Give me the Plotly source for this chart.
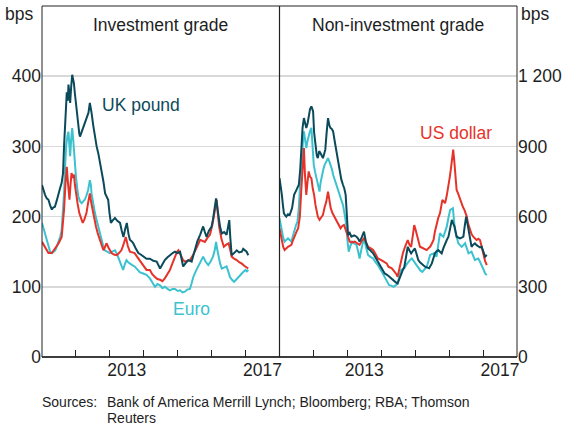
import plotly.graph_objects as go

# ---------------- data (decimal years, bps) ----------------
# Investment grade – UK pound
ig_gbp_x = [2011.00, 2011.05, 2011.09, 2011.14, 2011.19, 2011.24, 2011.29, 2011.33, 2011.38, 2011.43,
            2011.48, 2011.53, 2011.58, 2011.62, 2011.65, 2011.69, 2011.73, 2011.76, 2011.78, 2011.81,
            2011.83, 2011.86, 2011.89, 2011.92, 2011.94, 2011.97, 2012.00, 2012.04, 2012.07, 2012.10,
            2012.12, 2012.16, 2012.20, 2012.24, 2012.27, 2012.31, 2012.34, 2012.37, 2012.41, 2012.44,
            2012.46, 2012.51, 2012.56, 2012.61, 2012.66, 2012.71, 2012.76, 2012.81, 2012.86, 2012.90,
            2012.95, 2012.99, 2013.03, 2013.09, 2013.15, 2013.22, 2013.30, 2013.35, 2013.40, 2013.45,
            2013.50, 2013.55, 2013.59, 2013.64, 2013.69, 2013.76, 2013.84, 2013.91, 2013.99, 2014.08,
            2014.18, 2014.28, 2014.38, 2014.48, 2014.55, 2014.62, 2014.70, 2014.77, 2014.85, 2014.92,
            2015.00, 2015.07, 2015.12, 2015.16, 2015.24, 2015.31, 2015.41, 2015.46, 2015.51, 2015.58,
            2015.66, 2015.70, 2015.75, 2015.80, 2015.85, 2015.92, 2016.00, 2016.04, 2016.07, 2016.10,
            2016.13, 2016.17, 2016.20, 2016.25, 2016.30, 2016.37, 2016.44, 2016.48, 2016.52, 2016.55,
            2016.59, 2016.66, 2016.74, 2016.81, 2016.89, 2016.93, 2016.98, 2017.03, 2017.08]
ig_gbp_y = [245, 236, 231, 226, 224, 216, 210, 213, 214, 222,
            233, 240, 248, 262, 300, 340, 377, 365, 388, 375,
            362, 385, 402, 395, 390, 375, 362, 340, 324, 318,
            314, 320, 324, 330, 333, 340, 345, 348, 362, 355,
            348, 330, 314, 300, 290, 278, 267, 250, 233, 228,
            224, 205, 191, 195, 198, 194, 191, 180, 171, 182,
            191, 175, 167, 165, 162, 155, 148, 146, 143, 140,
            140, 137, 136, 126, 132, 138, 142, 145, 148, 150,
            148, 150, 140, 129, 134, 138, 136, 145, 152, 165,
            174, 180, 186, 178, 171, 180, 186, 196, 207, 218,
            226, 212, 200, 185, 176, 178, 174, 185, 195, 170,
            145, 148, 152, 149, 150, 154, 152, 150, 145]

# Investment grade – US dollar
ig_usd_x = [2011.00, 2011.05, 2011.10, 2011.19, 2011.29, 2011.39, 2011.49, 2011.58, 2011.62, 2011.65,
            2011.69, 2011.73, 2011.77, 2011.81, 2011.84, 2011.87, 2011.91, 2011.94, 2011.97, 2012.00,
            2012.05, 2012.10, 2012.15, 2012.20, 2012.25, 2012.31, 2012.36, 2012.41, 2012.45, 2012.49,
            2012.54, 2012.59, 2012.65, 2012.71, 2012.76, 2012.81, 2012.85, 2012.90, 2012.97, 2013.05,
            2013.12, 2013.20, 2013.27, 2013.34, 2013.40, 2013.47, 2013.53, 2013.59, 2013.66, 2013.73,
            2013.80, 2013.88, 2013.98, 2014.08, 2014.18, 2014.25, 2014.33, 2014.40, 2014.48, 2014.55,
            2014.62, 2014.70, 2014.77, 2014.85, 2014.92, 2014.98, 2015.02, 2015.06, 2015.10, 2015.16,
            2015.21, 2015.28, 2015.36, 2015.44, 2015.51, 2015.58, 2015.66, 2015.73, 2015.80, 2015.88,
            2015.95, 2016.02, 2016.08, 2016.12, 2016.15, 2016.18, 2016.22, 2016.29, 2016.36, 2016.43,
            2016.50, 2016.55, 2016.59, 2016.66, 2016.74, 2016.81, 2016.89, 2016.96, 2017.03, 2017.08]
ig_usd_y = [164, 160, 156, 148, 148, 155, 162, 171, 190, 210,
            245, 271, 245, 224, 245, 262, 255, 260, 245, 233,
            218, 205, 196, 191, 196, 205, 220, 233, 220, 210,
            196, 186, 175, 167, 158, 152, 156, 162, 155, 148,
            146, 145, 148, 152, 160, 171, 158, 150, 149, 148,
            143, 138, 130, 124, 124, 118, 114, 111, 110, 108,
            112, 118, 124, 134, 143, 150, 152, 148, 143, 138,
            136, 137, 138, 144, 150, 158, 167, 166, 164, 170,
            174, 188, 205, 218, 224, 205, 186, 168, 157, 160,
            162, 152, 143, 140, 138, 135, 133, 130, 128, 126]

# Investment grade – Euro
ig_eur_x = [2011.00, 2011.05, 2011.09, 2011.14, 2011.19, 2011.24, 2011.29, 2011.34, 2011.39, 2011.44,
            2011.49, 2011.54, 2011.58, 2011.62, 2011.65, 2011.68, 2011.71, 2011.75, 2011.78, 2011.81,
            2011.83, 2011.86, 2011.89, 2011.92, 2011.94, 2011.97, 2012.00, 2012.04, 2012.07, 2012.12,
            2012.17, 2012.22, 2012.26, 2012.31, 2012.36, 2012.41, 2012.44, 2012.46, 2012.51, 2012.56,
            2012.61, 2012.66, 2012.71, 2012.76, 2012.81, 2012.85, 2012.92, 2013.00, 2013.07, 2013.15,
            2013.20, 2013.24, 2013.32, 2013.39, 2013.44, 2013.49, 2013.54, 2013.59, 2013.66, 2013.73,
            2013.80, 2013.88, 2013.98, 2014.08, 2014.18, 2014.25, 2014.33, 2014.40, 2014.48, 2014.55,
            2014.62, 2014.70, 2014.77, 2014.85, 2014.92, 2015.00, 2015.07, 2015.14, 2015.21, 2015.28,
            2015.36, 2015.41, 2015.46, 2015.53, 2015.60, 2015.67, 2015.75, 2015.82, 2015.90, 2015.97,
            2016.04, 2016.09, 2016.13, 2016.17, 2016.20, 2016.25, 2016.30, 2016.37, 2016.44, 2016.49,
            2016.54, 2016.60, 2016.66, 2016.72, 2016.79, 2016.86, 2016.93, 2017.00, 2017.04, 2017.08]
ig_eur_y = [191, 182, 177, 165, 155, 150, 148, 150, 152, 158,
            164, 172, 181, 205, 233, 270, 300, 315, 321, 300,
            286, 310, 326, 310, 295, 275, 257, 240, 229, 222,
            219, 222, 224, 230, 238, 252, 245, 233, 218, 205,
            195, 186, 175, 164, 157, 152, 150, 148, 150, 152,
            148, 143, 132, 124, 132, 138, 135, 133, 131, 129,
            125, 121, 119, 117, 112, 106, 100, 104, 102, 98,
            100, 97, 95, 97, 97, 94, 95, 92, 93, 96,
            97, 105, 114, 122, 129, 136, 143, 136, 131, 136,
            143, 152, 164, 152, 143, 133, 126, 127, 129, 122,
            114, 110, 107, 110, 114, 118, 121, 124, 122, 124]

# Non-investment grade – UK pound
hy_gbp_x = [2011.00, 2011.04, 2011.07, 2011.10, 2011.13, 2011.17, 2011.20, 2011.25, 2011.30, 2011.37,
            2011.43, 2011.50, 2011.57, 2011.61, 2011.64, 2011.68, 2011.72, 2011.75, 2011.79, 2011.83,
            2011.86, 2011.90, 2011.94, 2011.99, 2012.02, 2012.06, 2012.10, 2012.13, 2012.17, 2012.21,
            2012.25, 2012.28, 2012.32, 2012.35, 2012.39, 2012.43, 2012.47, 2012.50, 2012.54, 2012.58,
            2012.63, 2012.68, 2012.72, 2012.77, 2012.82, 2012.87, 2012.91, 2012.95, 2012.98, 2013.02,
            2013.07, 2013.12, 2013.20, 2013.27, 2013.32, 2013.36, 2013.42, 2013.49, 2013.55, 2013.61,
            2013.68, 2013.76, 2013.83, 2013.90, 2014.00, 2014.10, 2014.18, 2014.23, 2014.30, 2014.36,
            2014.42, 2014.48, 2014.53, 2014.58, 2014.63, 2014.68, 2014.73, 2014.78, 2014.83, 2014.88,
            2014.94, 2014.99, 2015.04, 2015.09, 2015.14, 2015.19, 2015.24, 2015.29, 2015.35, 2015.41,
            2015.49, 2015.54, 2015.58, 2015.63, 2015.68, 2015.73, 2015.78, 2015.83, 2015.88, 2015.93,
            2015.98, 2016.03, 2016.08, 2016.12, 2016.16, 2016.22, 2016.27, 2016.32, 2016.37, 2016.42,
            2016.46, 2016.50, 2016.54, 2016.57, 2016.62, 2016.66, 2016.71, 2016.76, 2016.81, 2016.86,
            2016.91, 2016.96, 2017.01, 2017.06, 2017.11]
hy_gbp_y = [764, 730, 693, 650, 614, 605, 600, 610, 607, 636,
            693, 714, 736, 800, 907, 980, 1021, 1000, 979, 1000,
            1021, 1060, 1071, 1050, 960, 893, 860, 850, 880, 871,
            860, 850, 870, 886, 960, 1021, 990, 979, 975, 964,
            920, 879, 830, 793, 760, 736, 720, 693, 600, 521,
            530, 514, 520, 514, 505, 493, 510, 536, 490, 464,
            455, 443, 425, 407, 380, 357, 350, 343, 336, 329,
            320, 314, 335, 357, 370, 386, 430, 471, 455, 443,
            455, 464, 440, 414, 405, 400, 392, 386, 383, 379,
            400, 425, 443, 452, 457, 450, 443, 465, 486, 500,
            514, 550, 586, 570, 557, 514, 510, 507, 510, 514,
            560, 600, 570, 543, 505, 471, 480, 486, 478, 471,
            468, 471, 450, 429, 436]

# Non-investment grade – US dollar
hy_usd_x = [2011.00, 2011.04, 2011.07, 2011.11, 2011.15, 2011.20, 2011.25, 2011.30, 2011.35, 2011.40,
            2011.45, 2011.50, 2011.55, 2011.60, 2011.64, 2011.68, 2011.72, 2011.75, 2011.79, 2011.82,
            2011.86, 2011.90, 2011.94, 2011.98, 2012.02, 2012.06, 2012.09, 2012.13, 2012.18, 2012.23,
            2012.28, 2012.33, 2012.38, 2012.43, 2012.47, 2012.51, 2012.56, 2012.61, 2012.66, 2012.70,
            2012.75, 2012.80, 2012.85, 2012.90, 2012.97, 2013.02, 2013.07, 2013.14, 2013.22, 2013.30,
            2013.36, 2013.42, 2013.49, 2013.55, 2013.61, 2013.68, 2013.76, 2013.83, 2013.90, 2014.00,
            2014.10, 2014.16, 2014.21, 2014.26, 2014.31, 2014.36, 2014.40, 2014.44, 2014.48, 2014.53,
            2014.58, 2014.64, 2014.70, 2014.74, 2014.78, 2014.83, 2014.88, 2014.93, 2014.97, 2015.01,
            2015.04, 2015.09, 2015.14, 2015.19, 2015.24, 2015.29, 2015.34, 2015.39, 2015.44, 2015.49,
            2015.54, 2015.58, 2015.63, 2015.68, 2015.73, 2015.77, 2015.80, 2015.84, 2015.88, 2015.93,
            2015.98, 2016.02, 2016.06, 2016.09, 2016.12, 2016.15, 2016.17, 2016.20, 2016.22, 2016.26,
            2016.29, 2016.33, 2016.37, 2016.41, 2016.45, 2016.49, 2016.52, 2016.56, 2016.61, 2016.66,
            2016.71, 2016.76, 2016.81, 2016.86, 2016.91, 2016.96, 2017.01, 2017.06, 2017.11]
hy_usd_y = [550, 520, 493, 470, 457, 465, 471, 475, 479, 500,
            521, 535, 550, 600, 707, 800, 893, 780, 693, 740,
            793, 770, 764, 720, 693, 650, 621, 600, 586, 595,
            607, 640, 664, 707, 660, 636, 615, 600, 590, 579,
            565, 550, 560, 564, 536, 510, 493, 490, 493, 485,
            479, 495, 507, 490, 471, 465, 457, 440, 421, 414,
            407, 400, 386, 382, 379, 370, 364, 355, 343, 380,
            414, 445, 471, 490, 500, 480, 471, 520, 564, 545,
            529, 500, 471, 468, 464, 460, 457, 465, 471, 485,
            500, 535, 571, 595, 614, 650, 671, 665, 657, 690,
            729, 770, 814, 850, 886, 840, 800, 750, 714, 700,
            686, 670, 657, 640, 629, 615, 600, 570, 543, 525,
            514, 505, 500, 505, 500, 470, 436, 410, 393]

# Non-investment grade – Euro
hy_eur_x = [2011.00, 2011.04, 2011.07, 2011.11, 2011.15, 2011.20, 2011.25, 2011.30, 2011.35, 2011.40,
            2011.45, 2011.49, 2011.53, 2011.57, 2011.60, 2011.63, 2011.66, 2011.69, 2011.72, 2011.75,
            2011.79, 2011.82, 2011.86, 2011.90, 2011.94, 2011.97, 2012.01, 2012.05, 2012.09, 2012.13,
            2012.18, 2012.21, 2012.25, 2012.29, 2012.33, 2012.38, 2012.43, 2012.47, 2012.51, 2012.55,
            2012.58, 2012.63, 2012.68, 2012.72, 2012.77, 2012.82, 2012.87, 2012.92, 2012.97, 2013.00,
            2013.04, 2013.09, 2013.14, 2013.20, 2013.27, 2013.32, 2013.36, 2013.42, 2013.49, 2013.55,
            2013.61, 2013.68, 2013.76, 2013.83, 2013.90, 2014.00, 2014.10, 2014.15, 2014.23, 2014.30,
            2014.36, 2014.42, 2014.48, 2014.53, 2014.58, 2014.63, 2014.68, 2014.74, 2014.80, 2014.85,
            2014.90, 2014.95, 2014.99, 2015.04, 2015.09, 2015.15, 2015.21, 2015.28, 2015.34, 2015.39,
            2015.44, 2015.49, 2015.54, 2015.58, 2015.63, 2015.68, 2015.73, 2015.78, 2015.83, 2015.88,
            2015.93, 2015.98, 2016.03, 2016.07, 2016.11, 2016.14, 2016.17, 2016.22, 2016.27, 2016.32,
            2016.37, 2016.42, 2016.47, 2016.52, 2016.57, 2016.62, 2016.66, 2016.71, 2016.76, 2016.81,
            2016.86, 2016.91, 2016.96, 2017.01, 2017.06, 2017.11]
hy_eur_y = [593, 560, 536, 510, 493, 500, 507, 500, 493, 520,
            550, 565, 579, 640, 721, 800, 879, 920, 964, 930,
            893, 920, 950, 965, 979, 900, 821, 790, 764, 735,
            707, 745, 779, 800, 821, 835, 850, 835, 821, 800,
            779, 757, 736, 715, 693, 670, 650, 610, 564, 500,
            450, 475, 493, 485, 479, 450, 421, 465, 507, 470,
            436, 428, 421, 405, 393, 368, 343, 329, 307, 305,
            300, 306, 314, 345, 371, 375, 379, 395, 407, 415,
            421, 410, 400, 390, 379, 370, 364, 375, 386, 410,
            436, 440, 443, 436, 429, 480, 529, 520, 514, 535,
            557, 595, 629, 632, 636, 590, 543, 515, 486, 478,
            471, 478, 486, 465, 443, 447, 450, 432, 414, 418,
            421, 407, 393, 375, 357, 350]

# axis ticks
ig_ticks = [0, 100, 200, 300, 400]
hy_ticks = [0, 300, 600, 900, 1200]
hy_tick_text = ["0", "300", "600", "900", "1 200"]
year_bounds = [2012, 2013, 2014, 2015, 2016, 2017]
year_label_pos = [2013.5, 2017.5]
year_labels = ["2013", "2017"]

# ---------------- styling ----------------
C_GBP = "#0b4a5b"
C_USD = "#e6332a"
C_EUR = "#3cc2cf"
FONT = "Liberation Sans, Arial, sans-serif"
TXT = "#1e1e1e"
FS = 17.5
W, H = 574, 428
L, R, T, B = 42, 57, 6, 71
plot_h = H - T - B


def py(px):
    """pixel y (from top) -> paper y"""
    return (H - B - px) / plot_h


def pxp(px):
    """pixel x -> paper x"""
    return (px - L) / (W - L - R)


fig = go.Figure()
for xs, ys, c in [(ig_eur_x, ig_eur_y, C_EUR), (ig_usd_x, ig_usd_y, C_USD), (ig_gbp_x, ig_gbp_y, C_GBP)]:
    fig.add_trace(go.Scatter(x=xs, y=ys, mode="lines", line=dict(color=c, width=2),
                             xaxis="x", yaxis="y", hoverinfo="skip"))
for xs, ys, c in [(hy_eur_x, hy_eur_y, C_EUR), (hy_usd_x, hy_usd_y, C_USD), (hy_gbp_x, hy_gbp_y, C_GBP)]:
    fig.add_trace(go.Scatter(x=xs, y=ys, mode="lines", line=dict(color=c, width=2),
                             xaxis="x2", yaxis="y2", hoverinfo="skip"))

xcommon = dict(range=[2011, 2018], tickmode="array", tickvals=year_label_pos, ticktext=year_labels,
               ticks="", showgrid=False, zeroline=False, showline=False,
               tickfont=dict(size=FS, color=TXT, family=FONT),
               minor=dict(tickmode="array", tickvals=year_bounds, ticks="inside", ticklen=7,
                          tickwidth=1, tickcolor="#222", showgrid=False))
fig.update_layout(
    width=W, height=H, margin=dict(l=L, r=R, t=T, b=B, pad=0),
    paper_bgcolor="white", plot_bgcolor="white", showlegend=False,
    font=dict(family=FONT, size=FS, color=TXT),
    xaxis=dict(domain=[0, 0.5], anchor="y", **xcommon),
    xaxis2=dict(domain=[0.5, 1], anchor="y2", **xcommon),
    yaxis=dict(domain=[0, 1], anchor="x", range=[0, 500], tickmode="array", tickvals=ig_ticks,
               showgrid=True, gridcolor="#d9d9d9", gridwidth=1.5, zeroline=False, ticks="",
               showline=False, tickfont=dict(size=FS, color=TXT, family=FONT)),
    yaxis2=dict(domain=[0, 1], anchor="x2", side="right", range=[0, 1500], tickmode="array",
                tickvals=hy_ticks, ticktext=hy_tick_text,
                showgrid=True, gridcolor="#d9d9d9", gridwidth=1.5, zeroline=False, ticks="",
                showline=False, tickfont=dict(size=FS, color=TXT, family=FONT)),
)

# frame, divider, baseline
fig.add_shape(type="rect", xref="paper", yref="paper", x0=0, x1=1, y0=0, y1=1,
              line=dict(color="#222", width=1), layer="above")
fig.add_shape(type="line", xref="paper", yref="paper", x0=0.5, x1=0.5, y0=0, y1=1,
              line=dict(color="#222", width=1.2), layer="above")
fig.add_shape(type="line", xref="paper", yref="paper", x0=0, x1=1, y0=0, y1=0,
              line=dict(color="#222", width=1.6), layer="above")

ann = []
ann.append(dict(text="Investment grade", x=0.25, y=py(25), xref="paper", yref="paper",
                xanchor="center", yanchor="middle", showarrow=False, font=dict(size=FS, color=TXT)))
ann.append(dict(text="Non-investment grade", x=0.75, y=py(25), xref="paper", yref="paper",
                xanchor="center", yanchor="middle", showarrow=False, font=dict(size=FS, color=TXT)))
ann.append(dict(text="bps", x=pxp(19), y=py(14), xref="paper", yref="paper",
                xanchor="center", yanchor="middle", showarrow=False, font=dict(size=FS, color=TXT)))
ann.append(dict(text="bps", x=pxp(519), y=py(14), xref="paper", yref="paper",
                xanchor="left", yanchor="middle", showarrow=False, font=dict(size=FS, color=TXT)))
ann.append(dict(text="UK pound", x=pxp(100), y=py(105), xref="paper", yref="paper",
                xanchor="left", yanchor="middle", showarrow=False, font=dict(size=FS, color=C_GBP)))
ann.append(dict(text="US dollar", x=pxp(418), y=py(133), xref="paper", yref="paper",
                xanchor="left", yanchor="middle", showarrow=False, font=dict(size=FS, color=C_USD)))
ann.append(dict(text="Euro", x=pxp(171), y=py(309), xref="paper", yref="paper",
                xanchor="left", yanchor="middle", showarrow=False, font=dict(size=FS, color=C_EUR)))
ann.append(dict(text="Sources:", x=pxp(40), y=py(402), xref="paper", yref="paper",
                xanchor="left", yanchor="middle", showarrow=False, font=dict(size=14, color=TXT)))
ann.append(dict(text="Bank of America Merrill Lynch; Bloomberg; RBA; Thomson", x=pxp(105), y=py(402),
                xref="paper", yref="paper", xanchor="left", yanchor="middle", showarrow=False,
                font=dict(size=14, color=TXT)))
ann.append(dict(text="Reuters", x=pxp(105), y=py(418), xref="paper", yref="paper",
                xanchor="left", yanchor="middle", showarrow=False, font=dict(size=14, color=TXT)))
fig.update_layout(annotations=ann)

fig.write_html("out.html", config={"displayModeBar": False, "staticPlot": True},
               post_script="document.body.style.margin='0';document.body.style.padding='0';")
